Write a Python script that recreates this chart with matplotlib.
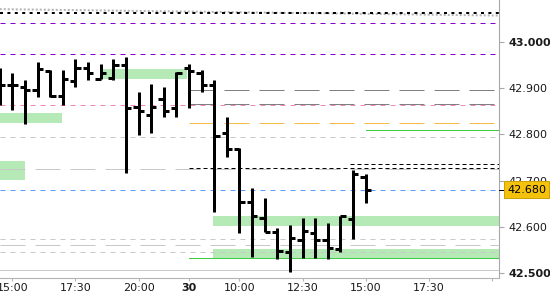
import matplotlib
matplotlib.use("Agg")
import matplotlib.pyplot as plt
import matplotlib.transforms as mtransforms
import pandas as pd

# 30 minute bars, session 08:00-22:00
day1 = pd.date_range("2024-01-29 14:30", "2024-01-29 21:30", freq="30min")
day2 = pd.date_range("2024-01-30 08:00", "2024-01-30 21:30", freq="30min")
slots = list(day1) + list(day2)

opens = [42.915, 42.907, 42.902, 42.897, 42.938, 42.884, 42.916, 42.944, 42.920, 42.923,
         42.951, 42.860, 42.842, 42.877, 42.857, 42.944, 42.933, 42.907, 42.803, 42.769,
         42.654, 42.618, 42.588, 42.546, 42.570, 42.587, 42.570, 42.552, 42.617, 42.708]
highs = [42.944, 42.933, 42.918, 42.957, 42.940, 42.940, 42.964, 42.957, 42.953, 42.964,
         42.968, 42.892, 42.910, 42.903, 42.936, 42.953, 42.940, 42.918, 42.838, 42.771,
         42.684, 42.662, 42.597, 42.604, 42.618, 42.618, 42.607, 42.624, 42.723, 42.714]
lows = [42.864, 42.853, 42.823, 42.881, 42.881, 42.864, 42.903, 42.918, 42.920, 42.918,
        42.716, 42.799, 42.803, 42.838, 42.838, 42.857, 42.892, 42.632, 42.751, 42.586,
        42.533, 42.588, 42.529, 42.502, 42.531, 42.531, 42.529, 42.544, 42.573, 42.651]
closes = [42.907, 42.907, 42.897, 42.942, 42.884, 42.920, 42.945, 42.933, 42.933, 42.951,
          42.857, 42.851, 42.860, 42.851, 42.933, 42.938, 42.907, 42.797, 42.769, 42.654,
          42.624, 42.589, 42.547, 42.576, 42.591, 42.570, 42.554, 42.624, 42.714, 42.680]
last_price = 42.680

# horizontal levels and the bar they start at
level_prices = [43.064, 43.041, 42.975, 42.897, 42.866, 42.863, 42.824, 42.810, 42.795,
                42.735, 42.727, 42.724, 42.680, 42.573, 42.560, 42.544, 42.531, 42.506]
level_start = [0, 0, 0, 15, 15, 0, 15, 29, 0, 27.75, 15, 0, 0, 0, 0, 0, 15, 0]

# sloping dotted trend line (bar, price)
trend_x = [0, 39.5]
trend_y = [43.072, 43.058]

# green zones
zone_x0 = [8.1, 0, 0, 16.9, 16.9]
zone_x1 = [14.85, 4.95, 2.0, 40, 40]
zone_lo = [42.920, 42.825, 42.701, 42.602, 42.531]
zone_hi = [42.942, 42.847, 42.742, 42.624, 42.551]

xtick_times = ["2024-01-29 15:00", "2024-01-29 17:30", "2024-01-29 20:00", "2024-01-30 08:00",
               "2024-01-30 10:00", "2024-01-30 12:30", "2024-01-30 15:00", "2024-01-30 17:30",
               "2024-01-30 20:00"]
xtick_labels = ["15:00", "17:30", "20:00", "30", "10:00", "12:30", "15:00", "17:30", ""]
ytick_vals = [42.5, 42.6, 42.7, 42.8, 42.9, 43.0]

PX = 0.72  # points per pixel at dpi 100
plt.rcParams['lines.scale_dashes'] = False
plt.rcParams['font.family'] = ['DejaVu Sans']

fig = plt.figure(figsize=(5.5, 3), dpi=100)
ax = fig.add_axes([0, 22 / 300, 499 / 550, 278 / 300])

for x0, x1, lo, hi in zip(zone_x0, zone_x1, zone_lo, zone_hi):
    ax.fill_between([x0, x1], lo, hi, color='#b5e9b5', lw=0, zorder=1)

styles = [
    ('black', 2, (3, 4.4)),
    ('#8800cc', 1, (5, 5)),
    ('#8800cc', 1, (5, 5)),
    ('#808080', 1, (25, 10)),
    ('#808080', 1, (25, 10)),
    ('#f088b8', 1, (5, 5)),
    ('#f5b945', 1, (25, 10)),
    ('#40cc40', 1, None),
    ('#c8c8c8', 1, (5, 5)),
    ('black', 1, (4, 3)),
    ('black', 1, (4, 3)),
    ('#c8c8c8', 1, (25, 10)),
    ('#5c9cff', 1, (5, 5)),
    ('#c8c8c8', 1, (5, 5)),
    ('#c8c8c8', 1, (25, 10)),
    ('#c8c8c8', 1, (5, 5)),
    ('#40cc40', 1, None),
    ('#c8c8c8', 1, None),
]
for price, start, (col, lw, dash) in zip(level_prices, level_start, styles):
    ls = '-' if dash is None else (0, tuple(d * PX for d in dash))
    z = 3 if col == 'black' else 2
    ax.plot([start, 40], [price, price], color=col, lw=lw * PX, linestyle=ls, zorder=z)

ax.plot(trend_x, trend_y, color='#b4b4b4', lw=2 * PX, linestyle=(0, (2 * PX, 2 * PX)), zorder=2)

# OHLC bars
idx = list(range(len(opens)))
bw = 3 * PX
ax.vlines(idx, lows, highs, color='black', lw=bw, zorder=4)
ax.hlines(opens, [i - 0.42 for i in idx], idx, color='black', lw=bw, zorder=4)
ax.hlines(closes, idx, [i + 0.42 for i in idx], color='black', lw=bw, zorder=4)

ax.set_xlim(0.02, 39.57)
ax.set_ylim(42.4885, 43.0918)

for s in ['top', 'left']:
    ax.spines[s].set_visible(False)
ax.spines['right'].set_color('#a8a8a8')
ax.spines['bottom'].set_color('#b4b4b4')

ax.yaxis.tick_right()
ax.set_yticks(ytick_vals)
ax.set_yticklabels([f"{v:.3f}" for v in ytick_vals])
ax.tick_params(axis='y', length=5 * PX, color='#a8a8a8', pad=3, labelsize=8, labelcolor='#1a1a1a')
for lab, v in zip(ax.get_yticklabels(), ytick_vals):
    if abs(v * 10 - round(v * 10)) < 1e-6 and round(v * 10) % 5 == 0:
        lab.set_fontweight('bold')

pos = [slots.index(pd.Timestamp(t)) for t in xtick_times]
ax.set_xticks(pos)
ax.set_xticklabels(xtick_labels)
ax.tick_params(axis='x', length=3 * PX, color='#b4b4b4', pad=1.5, labelsize=8, labelcolor='#1a1a1a')
for lab in ax.get_xticklabels():
    if lab.get_text() == "30":
        lab.set_fontweight('bold')

trans = mtransforms.blended_transform_factory(ax.transAxes, ax.transData)
# partly visible label above the top
ax.text(1.0 + 9 / 499, 43.1, "43.100", transform=trans, fontsize=8, ha='left', va='center',
        color='#1a1a1a', clip_on=False)
# last price marker
ax.plot([1.0, 1.0 + 6 / 499], [last_price, last_price], color='black', lw=PX, transform=trans,
        clip_on=False, zorder=5)
ax.text(1.0 + 8 / 499, last_price, f"{last_price:.3f}", transform=trans, fontsize=8,
        ha='left', va='center', color='black', clip_on=False, zorder=6,
        bbox=dict(boxstyle='square,pad=0.3', fc='#f4c20d', ec='#caa000', lw=0.7))

fig.savefig('out.png', dpi=100)
